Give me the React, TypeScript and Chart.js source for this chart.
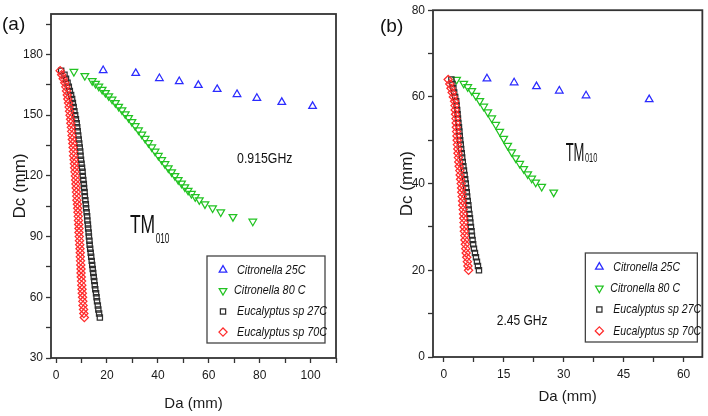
import React, { useEffect, useRef } from 'react';
import { Chart, registerables } from 'chart.js';
import { drawPoint } from 'chart.js/helpers';

Chart.register(...registerables);

// ---------------- data ----------------
const seriesNames = ['Citronella 25C', 'Citronella 80 C', 'Eucalyptus sp 27C', 'Eucalyptus sp 70C'];

// Panel (a) 0.915 GHz
const aCit25X = [18.5, 31.3, 40.6, 48.4, 55.9, 63.3, 71.1, 78.9, 88.7, 100.8];
const aCit25Y = [172.1, 170.7, 168.2, 166.7, 164.8, 162.8, 160.3, 158.4, 156.4, 154.4];

const aCit80X = [7.0, 11.3, 14.2, 15.5, 16.8, 18.1, 19.4, 20.7, 22.0, 23.3, 24.6, 25.9, 27.2, 28.5, 29.8, 31.1, 32.4, 33.7, 35.0, 36.3, 37.6, 38.9, 40.2, 41.5, 42.8, 44.1, 45.4, 46.7, 48.0, 49.3, 50.6, 51.9, 53.2, 54.7, 56.3, 58.5, 61.5, 64.7, 69.5, 77.3];
const aCit80Y = [171.5, 169.5, 167.0, 165.6, 164.2, 162.7, 161.1, 159.5, 157.8, 156.1, 154.3, 152.5, 150.6, 148.7, 146.7, 144.7, 142.6, 140.5, 138.4, 136.3, 134.2, 132.1, 130.0, 127.9, 125.9, 123.9, 121.9, 120.0, 118.1, 116.3, 114.5, 112.8, 111.2, 109.6, 108.1, 106.1, 104.1, 102.1, 99.8, 97.5];

const aEuc27X = [2.0, 3.3, 3.9, 4.5, 5.0, 5.4, 5.9, 6.3, 6.6, 6.9, 7.2, 7.5, 7.8, 8.1, 8.3, 8.5, 8.7, 8.9, 9.1, 9.3, 9.5, 9.6, 9.8, 10.0, 10.2, 10.4, 10.5, 10.7, 10.9, 11.0, 11.2, 11.3, 11.5, 11.7, 11.8, 12.0, 12.2, 12.3, 12.5, 12.6, 12.8, 12.9, 13.1, 13.2, 13.4, 13.6, 13.8, 14.0, 14.2, 14.4, 14.6, 14.8, 15.0, 15.2, 15.4, 15.7, 15.9, 16.1, 16.4, 16.6, 16.9, 17.2];
const aEuc27Y = [172, 170, 168, 166, 164, 162, 160, 158, 156, 154, 152, 150, 148, 146, 144, 142, 140, 138, 136, 134, 132, 130, 128, 126, 124, 122, 120, 118, 116, 114, 112, 110, 108, 106, 104, 102, 100, 98, 96, 94, 92, 90, 88, 86, 84, 82, 80, 78, 76, 74, 72, 70, 68, 66, 64, 62, 60, 58, 56, 54, 52, 50];

const aEuc70X = [1.6, 2.2, 2.8, 3.4, 3.8, 4.1, 4.4, 4.6, 4.9, 5.1, 5.3, 5.5, 5.7, 5.8, 6.0, 6.1, 6.3, 6.4, 6.6, 6.7, 6.8, 6.9, 7.1, 7.2, 7.3, 7.4, 7.6, 7.7, 7.8, 7.9, 8.0, 8.1, 8.2, 8.4, 8.5, 8.6, 8.7, 8.8, 8.9, 9.0, 9.0, 9.1, 9.2, 9.3, 9.4, 9.5, 9.5, 9.6, 9.7, 9.8, 9.8, 9.9, 10.0, 10.1, 10.2, 10.3, 10.4, 10.5, 10.6, 10.8, 10.9, 11.1];
const aEuc70Y = [172, 170, 168, 166, 164, 162, 160, 158, 156, 154, 152, 150, 148, 146, 144, 142, 140, 138, 136, 134, 132, 130, 128, 126, 124, 122, 120, 118, 116, 114, 112, 110, 108, 106, 104, 102, 100, 98, 96, 94, 92, 90, 88, 86, 84, 82, 80, 78, 76, 74, 72, 70, 68, 66, 64, 62, 60, 58, 56, 54, 52, 50];

const aXTicks = [0, 10, 20, 30, 40, 50, 60, 70, 80, 90, 100, 110];
const aXLabels = [0, 20, 40, 60, 80, 100];
const aYTicks = [30, 45, 60, 75, 90, 105, 120, 135, 150, 165, 180, 195];
const aYLabels = [30, 60, 90, 120, 150, 180];

// Panel (b) 2.45 GHz
const bCit25X = [10.8, 17.6, 23.2, 28.9, 35.6, 51.4];
const bCit25Y = [64.2, 63.3, 62.4, 61.4, 60.3, 59.4];

const bCit80X = [3.2, 5.0, 6.0, 7.0, 8.0, 9.0, 10.0, 11.0, 12.0, 13.0, 14.0, 15.0, 16.0, 17.0, 18.0, 19.0, 20.0, 21.0, 22.0, 23.0, 24.5, 27.5];
const bCit80Y = [64.0, 63.1, 62.3, 61.4, 60.3, 59.1, 57.8, 56.5, 55.1, 53.6, 52.0, 50.4, 48.8, 47.3, 45.9, 44.6, 43.4, 42.2, 41.2, 40.3, 39.3, 38.0];

const bEuc27X = [1.9, 2.15, 2.4, 2.6, 2.85, 3.1, 3.2, 3.35, 3.45, 3.55, 3.65, 3.8, 3.9, 4.0, 4.1, 4.25, 4.35, 4.5, 4.6, 4.75, 4.9, 5.05, 5.2, 5.35, 5.5, 5.6, 5.75, 5.85, 6.0, 6.15, 6.25, 6.4, 6.55, 6.65, 6.8, 6.95, 7.05, 7.2, 7.35, 7.55, 7.8, 8.05, 8.3, 8.55, 8.8];
const bEuc27Y = [64, 63, 62, 61, 60, 59, 58, 57, 56, 55, 54, 53, 52, 51, 50, 49, 48, 47, 46, 45, 44, 43, 42, 41, 40, 39, 38, 37, 36, 35, 34, 33, 32, 31, 30, 29, 28, 27, 26, 25, 24, 23, 22, 21, 20];

const bEuc70X = [1.1, 1.5, 1.8, 2.1, 2.4, 2.7, 2.8, 2.85, 2.95, 3.05, 3.1, 3.15, 3.2, 3.3, 3.35, 3.4, 3.5, 3.55, 3.65, 3.75, 3.85, 4.0, 4.1, 4.2, 4.35, 4.45, 4.5, 4.6, 4.7, 4.75, 4.85, 4.95, 5.0, 5.05, 5.1, 5.15, 5.25, 5.3, 5.4, 5.5, 5.6, 5.75, 5.9, 6.05, 6.2];
const bEuc70Y = [64, 63, 62, 61, 60, 59, 58, 57, 56, 55, 54, 53, 52, 51, 50, 49, 48, 47, 46, 45, 44, 43, 42, 41, 40, 39, 38, 37, 36, 35, 34, 33, 32, 31, 30, 29, 28, 27, 26, 25, 24, 23, 22, 21, 20];

const bXTicks = [0, 7.5, 15, 22.5, 30, 37.5, 45, 52.5, 60];
const bXLabels = [0, 15, 30, 45, 60];
const bYTicks = [0, 10, 20, 30, 40, 50, 60, 70, 80];
const bYLabels = [0, 20, 40, 60, 80];

// ---------------- styles ----------------
const COLORS = ['#2b2bff', '#22c322', '#2e2e2e', '#ff2b2b'];
const MARKERS = [
  { style: 'triangle', rotation: 0, radius: 4.4 },
  { style: 'triangle', rotation: 180, radius: 4.4 },
  { style: 'rect', rotation: 0, radius: 3.7 },
  { style: 'rectRot', rotation: 0, radius: 4.1 },
];
const MARKER_LINE = 1.25;

function hasFont(name: string): boolean {
  try {
    const c = document.createElement('canvas').getContext('2d');
    if (!c) return false;
    const s = 'abcdefgWMil0123456789';
    c.font = '20px monospace';
    const a = c.measureText(s).width;
    c.font = `20px '${name}', monospace`;
    const b = c.measureText(s).width;
    return Math.abs(a - b) > 0.5;
  } catch (e) {
    return false;
  }
}
const HAS_NARROW = hasFont('Liberation Sans Narrow');
const NARROW = HAS_NARROW ? "'Liberation Sans Narrow', 'Liberation Sans', Arial, sans-serif" : "'Liberation Sans', Arial, sans-serif";
const SANS = "'Liberation Sans', Arial, sans-serif";

function makeDatasets(xs: number[][], ys: number[][]) {
  return seriesNames.map((name, i) => ({
    label: name,
    data: xs[i].slice(0, Math.min(xs[i].length, ys[i].length)).map((x, j) => ({ x, y: ys[i][j] })),
    showLine: false,
    pointStyle: MARKERS[i].style,
    pointRotation: MARKERS[i].rotation,
    pointRadius: MARKERS[i].radius,
    pointHoverRadius: MARKERS[i].radius,
    pointBorderColor: COLORS[i],
    borderColor: COLORS[i],
    pointBackgroundColor: 'rgba(0,0,0,0)',
    backgroundColor: 'rgba(0,0,0,0)',
    pointBorderWidth: MARKER_LINE,
    order: 3 - i,
  }));
}

function drawText(ctx: CanvasRenderingContext2D, text: string, x: number, y: number, font: string, sx: number, align: CanvasTextAlign, baseline: CanvasTextBaseline, color = '#111') {
  ctx.save();
  ctx.translate(x, y);
  ctx.scale(sx, 1);
  ctx.font = font;
  ctx.fillStyle = color;
  ctx.textAlign = align;
  ctx.textBaseline = baseline;
  ctx.fillText(text, 0, 0);
  ctx.restore();
}

const framePlugin = {
  id: 'frame',
  beforeDatasetsDraw(chart: any) {
    const { ctx, chartArea: a } = chart;
    ctx.save();
    ctx.strokeStyle = '#333';
    ctx.lineWidth = 1.8;
    ctx.strokeRect(a.left, a.top, a.right - a.left, a.bottom - a.top);
    ctx.restore();
  },
};

const boxLegendPlugin = {
  id: 'boxLegend',
  afterDatasetsDraw(chart: any, _args: any, o: any) {
    const { ctx, chartArea: a } = chart;
    const x0 = a.right - o.right - o.width;
    const y0 = a.bottom - o.bottom - o.height;
    ctx.save();
    ctx.fillStyle = '#fff';
    ctx.fillRect(x0, y0, o.width, o.height);
    ctx.strokeStyle = '#444';
    ctx.lineWidth = 1.3;
    ctx.strokeRect(x0, y0, o.width, o.height);
    chart.data.datasets.forEach((ds: any, i: number) => {
      const cy = y0 + o.first + i * o.gap;
      ctx.save();
      ctx.strokeStyle = COLORS[i];
      ctx.fillStyle = 'rgba(0,0,0,0)';
      ctx.lineWidth = MARKER_LINE;
      drawPoint(ctx, { pointStyle: MARKERS[i].style, rotation: MARKERS[i].rotation, radius: MARKERS[i].radius, borderWidth: MARKER_LINE } as any, x0 + o.markerX, cy);
      ctx.restore();
      const tx = x0 + (i === 1 ? o.textX2 : o.textX);
      drawText(ctx, ds.label, tx, cy, `italic ${o.size}px ${SANS}`, o.sx, 'left', 'middle');
    });
    ctx.restore();
  },
};

const notesPlugin = {
  id: 'notes',
  afterDatasetsDraw(chart: any, _args: any, o: any) {
    const { ctx } = chart;
    const xs = chart.scales.x;
    const ys = chart.scales.y;
    (o.items || []).forEach((n: any) => {
      const px = xs.getPixelForValue(n.x);
      const py = ys.getPixelForValue(n.y);
      ctx.save();
      ctx.font = `${n.size}px ${SANS}`;
      const w = ctx.measureText(n.text).width * n.sx;
      ctx.restore();
      drawText(ctx, n.text, px, py, `${n.size}px ${SANS}`, n.sx, n.align, n.baseline);
      if (n.sub) {
        const startX = n.align === 'left' ? px + w : px + w / 2;
        drawText(ctx, n.sub.text, startX + 0.5, py + n.sub.dy, `${n.sub.size}px ${SANS}`, n.sub.sx, 'left', 'alphabetic');
      }
    });
    (o.fixed || []).forEach((n: any) => {
      drawText(ctx, n.text, n.px, n.py, `${n.size}px ${SANS}`, 1, 'left', 'middle');
    });
  },
};

interface PanelSpec {
  xs: number[][];
  ys: number[][];
  xMin: number; xMax: number; yMin: number; yMax: number;
  xTicks: number[]; xLabels: number[]; yTicks: number[]; yLabels: number[];
  pad: { left: number; top: number; right: number; bottom: number };
  yAxisWidth: number; xAxisHeight: number;
  yTitlePad: number; xTitlePad: number;
  legend: any; notes: any;
}

function buildConfig(p: PanelSpec): any {
  const tickFont = { family: NARROW, size: HAS_NARROW ? 13 : 12 };
  return {
    type: 'scatter',
    data: { datasets: makeDatasets(p.xs, p.ys) },
    plugins: [framePlugin, boxLegendPlugin, notesPlugin],
    options: {
      animation: false,
      responsive: false,
      maintainAspectRatio: false,
      events: [],
      layout: { padding: p.pad },
      plugins: {
        legend: { display: false },
        tooltip: { enabled: false },
        boxLegend: p.legend,
        notes: p.notes,
      },
      scales: {
        x: {
          type: 'linear',
          min: p.xMin,
          max: p.xMax,
          afterBuildTicks: (s: any) => { s.ticks = p.xTicks.map((v) => ({ value: v })); },
          afterFit: (s: any) => { s.height = p.xAxisHeight; },
          border: { display: false },
          grid: { drawOnChartArea: false, drawTicks: true, tickLength: 5, tickColor: '#333', tickWidth: 1.3 },
          ticks: {
            autoSkip: false, maxRotation: 0, minRotation: 0, padding: 5, color: '#1a1a1a', font: tickFont,
            callback: (v: any) => (p.xLabels.includes(Number(v)) ? String(v) : ''),
          },
          title: { display: true, text: 'Da (mm)', color: '#1a1a1a', font: { family: NARROW, size: 15 }, padding: { top: 0, bottom: p.xTitlePad } },
        },
        y: {
          type: 'linear',
          min: p.yMin,
          max: p.yMax,
          afterBuildTicks: (s: any) => { s.ticks = p.yTicks.map((v) => ({ value: v })); },
          afterFit: (s: any) => { s.width = p.yAxisWidth; },
          border: { display: false },
          grid: { drawOnChartArea: false, drawTicks: true, tickLength: 5, tickColor: '#333', tickWidth: 1.3 },
          ticks: {
            autoSkip: false, padding: 3, color: '#1a1a1a', font: tickFont,
            callback: (v: any) => (p.yLabels.includes(Number(v)) ? String(v) : ''),
          },
          title: { display: true, text: 'Dc (mm)', color: '#1a1a1a', font: { family: SANS, size: 17 }, padding: { top: p.yTitlePad, bottom: 0 } },
        },
      },
    },
  };
}

const panelA: PanelSpec = {
  xs: [aCit25X, aCit80X, aEuc27X, aEuc70X],
  ys: [aCit25Y, aCit80Y, aEuc27Y, aEuc70Y],
  xMin: -2, xMax: 110, yMin: 30, yMax: 200,
  xTicks: aXTicks, xLabels: aXLabels, yTicks: aYTicks, yLabels: aYLabels,
  pad: { left: 0, top: 14, right: 20, bottom: 0 },
  yAxisWidth: 51, xAxisHeight: 58,
  yTitlePad: 10, xTitlePad: 3,
  legend: { right: 11, bottom: 15, width: 118, height: 87, first: 14, gap: 20.7, markerX: 16, textX: 30, textX2: 27, size: 13.5, sx: 0.8 },
  notes: {
    items: [
      { text: '0.915GHz', x: 82, y: 128.4, size: 15, sx: 0.82, align: 'center', baseline: 'middle' },
      { text: 'TM', x: 29.0, y: 92.0, size: 25, sx: 0.7, align: 'left', baseline: 'alphabetic', sub: { text: '010', size: 15, sx: 0.55, dy: 10 } },
    ],
    fixed: [{ text: '(a)', px: 2, py: 25, size: 19 }],
  },
};

const panelB: PanelSpec = {
  xs: [bCit25X, bCit80X, bEuc27X, bEuc70X],
  ys: [bCit25Y, bCit80Y, bEuc27Y, bEuc70Y],
  xMin: -2.7, xMax: 64.7, yMin: 0, yMax: 80,
  xTicks: bXTicks, xLabels: bXLabels, yTicks: bYTicks, yLabels: bYLabels,
  pad: { left: 30, top: 8, right: 3, bottom: 0 },
  yAxisWidth: 43, xAxisHeight: 59,
  yTitlePad: 7, xTitlePad: 10,
  legend: { right: 5, bottom: 15, width: 112, height: 89, first: 14, gap: 21.3, markerX: 14, textX: 28, textX2: 25, size: 13.5, sx: 0.78 },
  notes: {
    items: [
      { text: '2.45 GHz', x: 19.6, y: 8.3, size: 15, sx: 0.8, align: 'center', baseline: 'middle' },
      { text: 'TM', x: 30.5, y: 45.2, size: 26, sx: 0.5, align: 'left', baseline: 'alphabetic', sub: { text: '010', size: 12, sx: 0.62, dy: 1 } },
    ],
    fixed: [{ text: '(b)', px: 20, py: 27, size: 19 }],
  },
};

function Panel({ spec, left, width }: { spec: PanelSpec; left: number; width: number }) {
  const ref = useRef<HTMLCanvasElement>(null);
  useEffect(() => {
    if (!ref.current) return;
    const chart = new Chart(ref.current, buildConfig(spec));
    return () => chart.destroy();
  }, [spec]);
  return (
    <canvas
      ref={ref}
      width={width}
      height={416}
      style={{ position: 'absolute', left, top: 0, width, height: 416, display: 'block' }}
    />
  );
}

export default function App() {
  return (
    <div style={{ position: 'fixed', left: 0, top: 0, width: 708, height: 416, background: '#fff', overflow: 'hidden' }}>
      <Panel spec={panelA} left={0} width={356} />
      <Panel spec={panelB} left={360} width={348} />
    </div>
  );
}
